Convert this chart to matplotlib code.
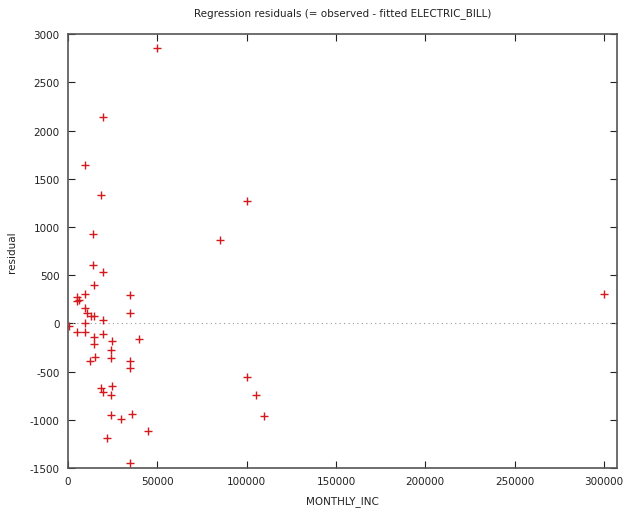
import numpy as np
import matplotlib
matplotlib.use("Agg")
import matplotlib.pyplot as plt

# residuals
monthly_inc = [
    49600, 19800, 9300, 18300, 14200, 14200, 19800, 14700,
    4800, 5000, 6000, 9700, 34900, 9700, 10600, 13000, 14700, 34900,
    19600, 9700, 700, 5000, 9700, 19600, 14700, 24600, 39600, 14700,
    24100, 24100, 15100, 12300, 34700, 34700,
    18500, 19800, 24800, 24100, 24100, 29700, 36000, 44900, 22000, 34700,
    85000, 100000, 100000, 105000, 109900, 300000,
]
residual = [
    2858, 2140, 1645, 1334, 927, 608, 529, 397,
    270, 230, 245, 304, 293, 159, 107, 79, 79, 104,
    37, 3, -25, -87, -87, -111, -145, -187, -163, -215,
    -277, -360, -346, -394, -388, -464,
    -671, -709, -653, -744, -951, -992, -940, -1114, -1192, -1452,
    864, 1271, -552, -743, -958, 304,
]

xticks = [0, 50000, 100000, 150000, 200000, 250000, 300000]
yticks = [-1500, -1000, -500, 0, 500, 1000, 1500, 2000, 2500, 3000]

plt.rcParams['font.family'] = ['DejaVu Sans']
plt.rcParams['axes.unicode_minus'] = False
fig = plt.figure(figsize=(6.27, 5.10), dpi=100)
ax = fig.add_axes([0.1085, 0.0804, 0.8755, 0.8506])

ax.axhline(0, color='#999999', lw=0.8, ls=(0, (1, 3)))
ax.plot(monthly_inc, residual, '+', color='#d4191c', ms=5.5, mew=1.0)

ax.set_xlim(0, 307300)
ax.set_ylim(-1500, 3000)
ax.set_xticks(xticks)
ax.set_yticks(yticks)
ax.tick_params(direction='in', length=5, width=0.8, labelsize=7.5,
               top=True, right=True, colors='#222222', pad=6)
for s in ax.spines.values():
    s.set_color('#555555')
    s.set_linewidth(1.2)

ax.set_title('Regression residuals (= observed - fitted ELECTRIC_BILL)',
             fontsize=7.5, pad=14, color='#222222')
ax.set_xlabel('MONTHLY_INC', fontsize=7.5, labelpad=6, color='#222222')
ax.set_ylabel('residual', fontsize=7.5, labelpad=9, color='#222222')

fig.savefig('out.png', dpi=100)
